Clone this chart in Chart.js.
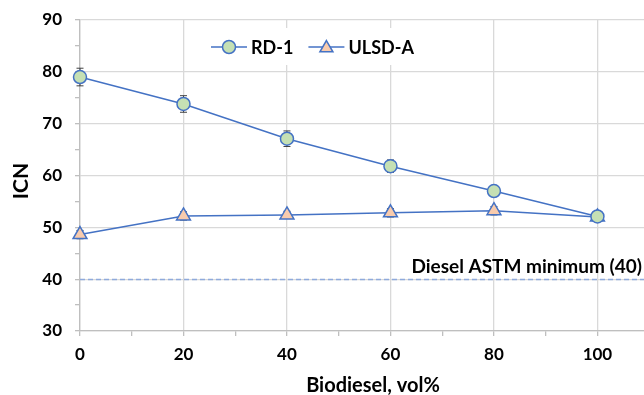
<!DOCTYPE html>
<html>
<head>
<meta charset="utf-8">
<script src="https://cdn.jsdelivr.net/npm/chart.js@4/dist/chart.umd.min.js"></script>
<style>
  html, body { margin: 0; padding: 0; background: #ffffff; }
  #wrap { width: 644px; height: 395px; overflow: hidden; }
</style>
</head>
<body>
<div id="wrap"><canvas id="c" width="644" height="395"></canvas></div>
<script>
// Biodiesel blend level (vol%) and ignition cetane number per fuel
const biodieselPct = [0, 20, 40, 60, 80, 100];
const rd1Icn  = [79.0, 73.8, 67.1, 61.8, 57.0, 52.1];
const rd1Err  = [1.7, 1.6, 1.5, 1.2, 0.8, 0.8];
const ulsdIcn = [48.6, 52.2, 52.4, 52.8, 53.2, 52.0];
const ulsdErr = [0.8, 0.8, 0.7, 0.8, 0.8, 0.8];
const seriesNames = ['RD-1', 'ULSD-A'];
const astmMinimum = 40;
const astmLabel = 'Diesel ASTM minimum (40)';
const xTitle = 'Biodiesel, vol%';
const yTitle = 'ICN';

const FONT = 'Lato, Carlito, Calibri, sans-serif';
const LINE_BLUE = '#4472C4';

function toPoints(xs, ys) { return xs.map((x, i) => ({ x: x, y: ys[i] })); }

function trianglePath(ctx, x, y, r) {
  let a = 0;
  ctx.beginPath();
  ctx.moveTo(x + Math.sin(a) * r, y - Math.cos(a) * r);
  a += 2 * Math.PI / 3;
  ctx.lineTo(x + Math.sin(a) * r, y - Math.cos(a) * r);
  a += 2 * Math.PI / 3;
  ctx.lineTo(x + Math.sin(a) * r, y - Math.cos(a) * r);
  ctx.closePath();
}

// Vertical error bars with caps, drawn under the markers
const errorBars = {
  id: 'errorBars',
  beforeDatasetsDraw(chart) {
    const ctx = chart.ctx, y = chart.scales.y;
    ctx.save();
    ctx.strokeStyle = '#404040';
    ctx.lineWidth = 1;
    chart.data.datasets.forEach((ds, di) => {
      const meta = chart.getDatasetMeta(di);
      meta.data.forEach((pt, i) => {
        const v = ds.data[i].y, e = ds.errors[i];
        const top = y.getPixelForValue(v + e), bot = y.getPixelForValue(v - e);
        const px = pt.x;
        ctx.beginPath();
        ctx.moveTo(px, top); ctx.lineTo(px, bot);
        ctx.moveTo(px - 3.5, top); ctx.lineTo(px + 3.5, top);
        ctx.moveTo(px - 3.5, bot); ctx.lineTo(px + 3.5, bot);
        ctx.stroke();
      });
    });
    ctx.restore();
  }
};

// Dashed ASTM limit line and its caption
const limitLine = {
  id: 'limitLine',
  beforeDatasetsDraw(chart) {
    const ctx = chart.ctx, area = chart.chartArea;
    const py = Math.round(chart.scales.y.getPixelForValue(astmMinimum)) + 0.5;
    ctx.save();
    ctx.strokeStyle = '#8FAADC';
    ctx.lineWidth = 1.3;
    ctx.setLineDash([5, 3]);
    ctx.beginPath();
    ctx.moveTo(area.left, py);
    ctx.lineTo(chart.width, py);
    ctx.stroke();
    ctx.setLineDash([]);
    ctx.fillStyle = '#000000';
    ctx.font = 'bold 19px ' + FONT;
    ctx.textAlign = 'right';
    ctx.textBaseline = 'alphabetic';
    ctx.fillText(astmLabel, chart.width - 2, py - 7);
    ctx.restore();
  }
};

// Legend with line + marker samples on a white box inside the plot
const insideLegend = {
  id: 'insideLegend',
  afterDatasetsDraw(chart) {
    const ctx = chart.ctx;
    const cy = 47;
    ctx.save();
    ctx.fillStyle = '#ffffff';
    ctx.fillRect(205, 28, 212, 37);
    ctx.font = 'bold 18px ' + FONT;
    ctx.textBaseline = 'middle';
    ctx.textAlign = 'left';
    let x = 211;
    chart.data.datasets.forEach((ds) => {
      ctx.strokeStyle = ds.borderColor;
      ctx.lineWidth = 1.5;
      ctx.beginPath();
      ctx.moveTo(x, cy); ctx.lineTo(x + 36, cy);
      ctx.stroke();
      const mx = x + 18;
      ctx.fillStyle = ds.pointBackgroundColor;
      if (ds.pointStyle === 'triangle') {
        trianglePath(ctx, mx, cy + 1, 7.5);
      } else {
        ctx.beginPath();
        ctx.arc(mx, cy, 6.5, 0, Math.PI * 2);
      }
      ctx.fill();
      ctx.stroke();
      ctx.fillStyle = '#000000';
      ctx.fillText(ds.label, x + 40, cy + 1);
      x += 40 + ctx.measureText(ds.label).width + 15;
    });
    ctx.restore();
  }
};

// Axis titles
const axisTitles = {
  id: 'axisTitles',
  afterDraw(chart) {
    const ctx = chart.ctx;
    ctx.save();
    ctx.fillStyle = '#000000';
    ctx.font = 'bold 20px ' + FONT;
    ctx.textAlign = 'center';
    ctx.textBaseline = 'alphabetic';
    ctx.fillText(xTitle, 373, 392);
    ctx.translate(28, 181);
    ctx.rotate(-Math.PI / 2);
    ctx.font = 'bold 21px ' + FONT;
    ctx.fillText(yTitle, 0, 0);
    ctx.restore();
  }
};

new Chart(document.getElementById('c'), {
  type: 'line',
  data: {
    datasets: [
      {
        label: seriesNames[0],
        data: toPoints(biodieselPct, rd1Icn),
        errors: rd1Err,
        borderColor: LINE_BLUE,
        borderWidth: 1.5,
        pointStyle: 'circle',
        pointRadius: 6.5,
        pointBorderWidth: 1.5,
        pointBackgroundColor: '#C5E0B4',
        pointBorderColor: LINE_BLUE,
        tension: 0,
        clip: false
      },
      {
        label: seriesNames[1],
        data: toPoints(biodieselPct, ulsdIcn),
        errors: ulsdErr,
        borderColor: LINE_BLUE,
        borderWidth: 1.5,
        pointStyle: 'triangle',
        pointRadius: 8,
        pointBorderWidth: 1.5,
        pointBackgroundColor: '#F8CBAD',
        pointBorderColor: LINE_BLUE,
        tension: 0,
        clip: false
      }
    ]
  },
  options: {
    responsive: false,
    animation: false,
    devicePixelRatio: 1,
    layout: { autoPadding: false, padding: { top: 20, right: 0, left: 0, bottom: 0 } },
    plugins: { legend: { display: false }, tooltip: { enabled: false } },
    scales: {
      x: {
        type: 'linear',
        min: 0,
        max: 109,
        afterBuildTicks(s) { s.ticks = s.ticks.filter(t => t.value % 10 === 0 && t.value <= 100); },
        afterFit(s) { s.height = 64; s.paddingLeft = 0; s.paddingRight = 0; },
        ticks: {
          stepSize: 10,
          autoSkip: false,
          maxRotation: 0,
          padding: 8,
          color: '#000000',
          font: { family: FONT, size: 17, weight: 'bold' },
          callback: v => (v % 20 === 0 ? String(v) : '')
        },
        grid: {
          color: c => (c.tick && c.tick.value % 20 === 0 ? '#D9D9D9' : 'rgba(0,0,0,0)'),
          tickColor: '#BFBFBF',
          tickLength: 5,
          lineWidth: 1.3
        },
        border: { color: '#BFBFBF', width: 1.3 }
      },
      y: {
        min: 30,
        max: 90,
        afterFit(s) { s.width = 80; s.paddingTop = 0; s.paddingBottom = 0; },
        ticks: {
          stepSize: 5,
          autoSkip: false,
          padding: 13,
          color: '#000000',
          font: { family: FONT, size: 17, weight: 'bold' },
          callback: v => (v % 10 === 0 ? String(v) : '')
        },
        grid: {
          color: c => (c.tick && c.tick.value % 10 === 0 ? '#D9D9D9' : 'rgba(0,0,0,0)'),
          tickColor: '#BFBFBF',
          tickLength: 5,
          lineWidth: 1.3
        },
        border: { color: '#BFBFBF', width: 1.3 }
      }
    }
  },
  plugins: [limitLine, errorBars, insideLegend, axisTitles]
});
</script>
</body>
</html>
